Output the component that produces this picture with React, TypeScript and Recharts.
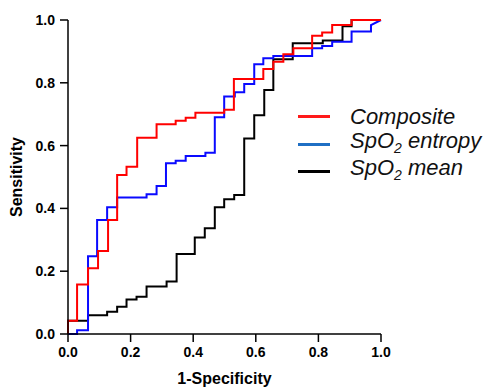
import { LineChart, Line, XAxis, YAxis, Legend } from 'recharts';

// ROC corner points (x = 1-specificity, y = sensitivity)
const compositeFpr = [0, 0, 0.029, 0.029, 0.064, 0.064, 0.096, 0.096, 0.128, 0.128, 0.157, 0.157, 0.187, 0.187, 0.221, 0.221, 0.283, 0.283, 0.344, 0.344, 0.376, 0.376, 0.407, 0.407, 0.499, 0.499, 0.53, 0.53, 0.624, 0.624, 0.656, 0.656, 0.688, 0.688, 0.72, 0.72, 0.78, 0.78, 0.812, 0.812, 0.844, 0.844, 0.906, 0.906, 1];
const compositeTpr = [0, 0.042, 0.042, 0.158, 0.158, 0.209, 0.209, 0.264, 0.264, 0.363, 0.363, 0.506, 0.506, 0.533, 0.533, 0.625, 0.625, 0.668, 0.668, 0.679, 0.679, 0.689, 0.689, 0.705, 0.705, 0.714, 0.714, 0.812, 0.812, 0.844, 0.844, 0.867, 0.867, 0.891, 0.891, 0.91, 0.91, 0.95, 0.95, 0.96, 0.96, 0.984, 0.984, 1, 1];

const entropyFpr = [0, 0.029, 0.029, 0.064, 0.064, 0.093, 0.093, 0.125, 0.125, 0.157, 0.157, 0.251, 0.251, 0.283, 0.283, 0.313, 0.313, 0.344, 0.344, 0.376, 0.376, 0.439, 0.439, 0.469, 0.469, 0.499, 0.499, 0.533, 0.533, 0.563, 0.563, 0.595, 0.595, 0.624, 0.624, 0.656, 0.656, 0.78, 0.78, 0.812, 0.812, 0.844, 0.844, 0.906, 0.906, 0.968, 0.968, 1];
const entropyTpr = [0, 0, 0.012, 0.012, 0.248, 0.248, 0.363, 0.363, 0.404, 0.404, 0.435, 0.435, 0.445, 0.445, 0.471, 0.471, 0.544, 0.544, 0.552, 0.552, 0.567, 0.567, 0.577, 0.577, 0.69, 0.69, 0.756, 0.756, 0.77, 0.77, 0.796, 0.796, 0.859, 0.859, 0.878, 0.878, 0.885, 0.885, 0.91, 0.91, 0.917, 0.917, 0.931, 0.931, 0.963, 0.963, 0.984, 1];

const meanFpr = [0, 0, 0.064, 0.064, 0.125, 0.125, 0.157, 0.157, 0.187, 0.187, 0.219, 0.219, 0.251, 0.251, 0.315, 0.315, 0.347, 0.347, 0.405, 0.405, 0.437, 0.437, 0.469, 0.469, 0.499, 0.499, 0.531, 0.531, 0.563, 0.563, 0.595, 0.595, 0.627, 0.627, 0.656, 0.656, 0.718, 0.718, 0.814, 0.814, 0.877, 0.877, 0.906, 0.906, 1];
const meanTpr = [0, 0.042, 0.042, 0.06, 0.06, 0.071, 0.071, 0.087, 0.087, 0.11, 0.11, 0.119, 0.119, 0.151, 0.151, 0.167, 0.167, 0.255, 0.255, 0.307, 0.307, 0.337, 0.337, 0.404, 0.404, 0.429, 0.429, 0.443, 0.443, 0.623, 0.623, 0.697, 0.697, 0.777, 0.777, 0.875, 0.875, 0.926, 0.926, 0.935, 0.935, 0.98, 0.98, 1, 1];

const axisTicks = [0, 0.2, 0.4, 0.6, 0.8, 1];

const toPoints = (fpr: number[], tpr: number[]) => fpr.map((x, i) => ({ x, y: tpr[i] }));

const font = '"Liberation Sans", Arial, sans-serif';

const legendItems = [
  { label: 'Composite', color: '#ff1a1a', sub: false },
  { label: 'entropy', color: '#1f6fc4', sub: true },
  { label: 'mean', color: '#000000', sub: true },
];

function renderLegend() {
  return (
    <div style={{ fontFamily: font, fontStyle: 'italic', fontSize: 22, color: '#111' }}>
      {legendItems.map((item) => (
        <div key={item.label} style={{ display: 'flex', alignItems: 'center', height: 27.5 }}>
          <div style={{ width: 32, height: 3, background: item.color, marginRight: 20 }} />
          <span style={{ lineHeight: '24px' }}>
            {item.sub ? (
              <>
                SpO<sub style={{ fontSize: 14, verticalAlign: -5 }}>2</sub> {item.label}
              </>
            ) : (
              item.label
            )}
          </span>
        </div>
      ))}
    </div>
  );
}

export default function App() {
  const tickStyle = { fill: '#000', fontSize: 14, fontWeight: 700, fontFamily: font };
  const titleStyle = { fill: '#000', fontSize: 16, fontWeight: 700, fontFamily: font, textAnchor: 'middle' as const };

  return (
    <div style={{ position: 'absolute', left: 0, top: 0, width: 488, height: 388, background: '#fff' }}>
      <LineChart width={488} height={388} margin={{ top: 20, right: 107, bottom: 0, left: 0 }}>
        <XAxis
          type="number"
          dataKey="x"
          domain={[0, 1]}
          ticks={axisTicks}
          tickFormatter={(v: number) => v.toFixed(1)}
          axisLine={{ stroke: '#000', strokeWidth: 1.5 }}
          tickLine={{ stroke: '#000', strokeWidth: 1.5 }}
          tickSize={8}
          tickMargin={5}
          height={54}
          tick={tickStyle}
          label={{ value: '1-Specificity', position: 'insideBottom', offset: 4, style: titleStyle }}
        />
        <YAxis
          type="number"
          domain={[0, 1]}
          ticks={axisTicks}
          tickFormatter={(v: number) => v.toFixed(1)}
          axisLine={{ stroke: '#000', strokeWidth: 1.5 }}
          tickLine={{ stroke: '#000', strokeWidth: 1.5 }}
          tickSize={8}
          tickMargin={5}
          width={68}
          tick={tickStyle}
          label={{ value: 'Sensitivity', angle: -90, position: 'insideLeft', offset: 16, style: titleStyle }}
        />
        <Legend
          layout="vertical"
          align="center"
          verticalAlign="middle"
          content={renderLegend}
          wrapperStyle={{ left: 298, top: 103, width: 190 }}
        />
        <Line data={toPoints(meanFpr, meanTpr)} dataKey="y" type="linear" stroke="#000" strokeWidth={2} dot={false} isAnimationActive={false} />
        <Line data={toPoints(entropyFpr, entropyTpr)} dataKey="y" type="linear" stroke="#0a0aff" strokeWidth={2} dot={false} isAnimationActive={false} />
        <Line data={toPoints(compositeFpr, compositeTpr)} dataKey="y" type="linear" stroke="#ff0000" strokeWidth={2} dot={false} isAnimationActive={false} />
      </LineChart>
    </div>
  );
}
